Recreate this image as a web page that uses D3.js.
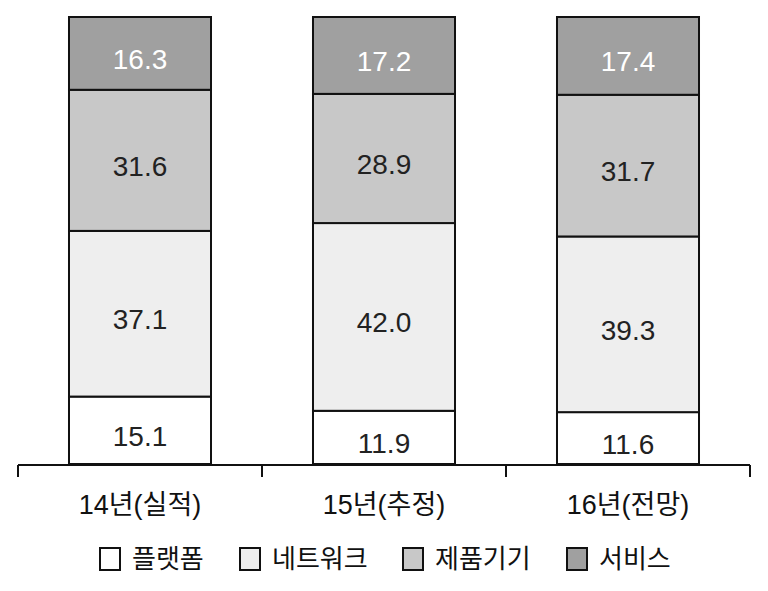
<!DOCTYPE html>
<html><head><meta charset="utf-8">
<script src="https://cdn.jsdelivr.net/npm/d3@7/dist/d3.min.js"></script>
<style>
body{margin:0;background:#fff;}
text{font-family:"Liberation Sans","Noto Sans CJK KR",sans-serif;}
</style></head>
<body><svg id="c" width="768" height="591"></svg>
<script>
const categories = ["14년(실적)", "15년(추정)", "16년(전망)"];
const seriesNames = ["플랫폼", "네트워크", "제품기기", "서비스"];
const platform = [15.1, 11.9, 11.6];
const network  = [37.1, 42.0, 39.3];
const device   = [31.6, 28.9, 31.7];
const service  = [16.3, 17.2, 17.4];
const colors = ["#ffffff", "#eeeeee", "#c8c8c8", "#a0a0a0"];
const labelColors = ["#222", "#222", "#222", "#fff"];

const seriesVals = [platform, network, device, service];
const rows = categories.map((c, i) => {
  const r = {cat: c};
  seriesNames.forEach((s, j) => r[s] = seriesVals[j][i]);
  return r;
});

const svg = d3.select("#c");
const x = d3.scaleBand().domain(categories).range([18, 750]).paddingInner(0.418).paddingOuter(0.209);
const y = d3.scaleLinear().domain([0, 1]).range([464, 17]);
const stack = d3.stack().keys(seriesNames).offset(d3.stackOffsetExpand);
const layers = stack(rows);

const g = svg.append("g");
layers.forEach((layer, j) => {
  const lg = g.append("g");
  lg.selectAll("rect").data(layer).join("rect")
    .attr("x", d => x(d.data.cat))
    .attr("width", x.bandwidth())
    .attr("y", d => y(d[1]))
    .attr("height", d => y(d[0]) - y(d[1]))
    .attr("fill", colors[j])
    .attr("stroke", "#111")
    .attr("stroke-width", 2);
});
layers.forEach((layer, j) => {
  g.append("g").selectAll("text").data(layer).join("text")
    .attr("x", d => x(d.data.cat) + x.bandwidth() / 2)
    .attr("y", d => (y(d[0]) + y(d[1])) / 2 + 6)
    .attr("text-anchor", "middle")
    .attr("dominant-baseline", "central")
    .attr("font-size", 28)
    .attr("fill", labelColors[j])
    .text(d => d.data[layer.key].toFixed(1));
});

// axis
const ax = svg.append("g");
const yAxis = 465;
ax.append("line").attr("x1", 18).attr("x2", 750).attr("y1", yAxis).attr("y2", yAxis)
  .attr("stroke", "#111").attr("stroke-width", 2);
const tickXs = categories.map(c => x(c) - x.step() * x.paddingInner() / 2);
tickXs.push(750);
tickXs[0] = 18;
ax.selectAll("line.t").data(tickXs).join("line").attr("class", "t")
  .attr("x1", d => d).attr("x2", d => d).attr("y1", yAxis).attr("y2", yAxis + 12)
  .attr("stroke", "#111").attr("stroke-width", 2);
ax.selectAll("text").data(categories).join("text")
  .attr("x", d => x(d) + x.bandwidth() / 2)
  .attr("y", 505)
  .attr("text-anchor", "middle")
  .attr("dominant-baseline", "central")
  .attr("font-size", 27)
  .attr("fill", "#111")
  .text(d => d);

// legend
const legendX = [100, 240, 403, 567];
const lg = svg.append("g");
seriesNames.forEach((s, j) => {
  lg.append("rect").attr("x", legendX[j]).attr("y", 548).attr("width", 20).attr("height", 22)
    .attr("fill", colors[j]).attr("stroke", "#111").attr("stroke-width", 2);
  lg.append("text").attr("x", legendX[j] + 32).attr("y", 559)
    .attr("dominant-baseline", "central").attr("font-size", 26).attr("fill", "#111").text(s);
});
</script></body></html>
